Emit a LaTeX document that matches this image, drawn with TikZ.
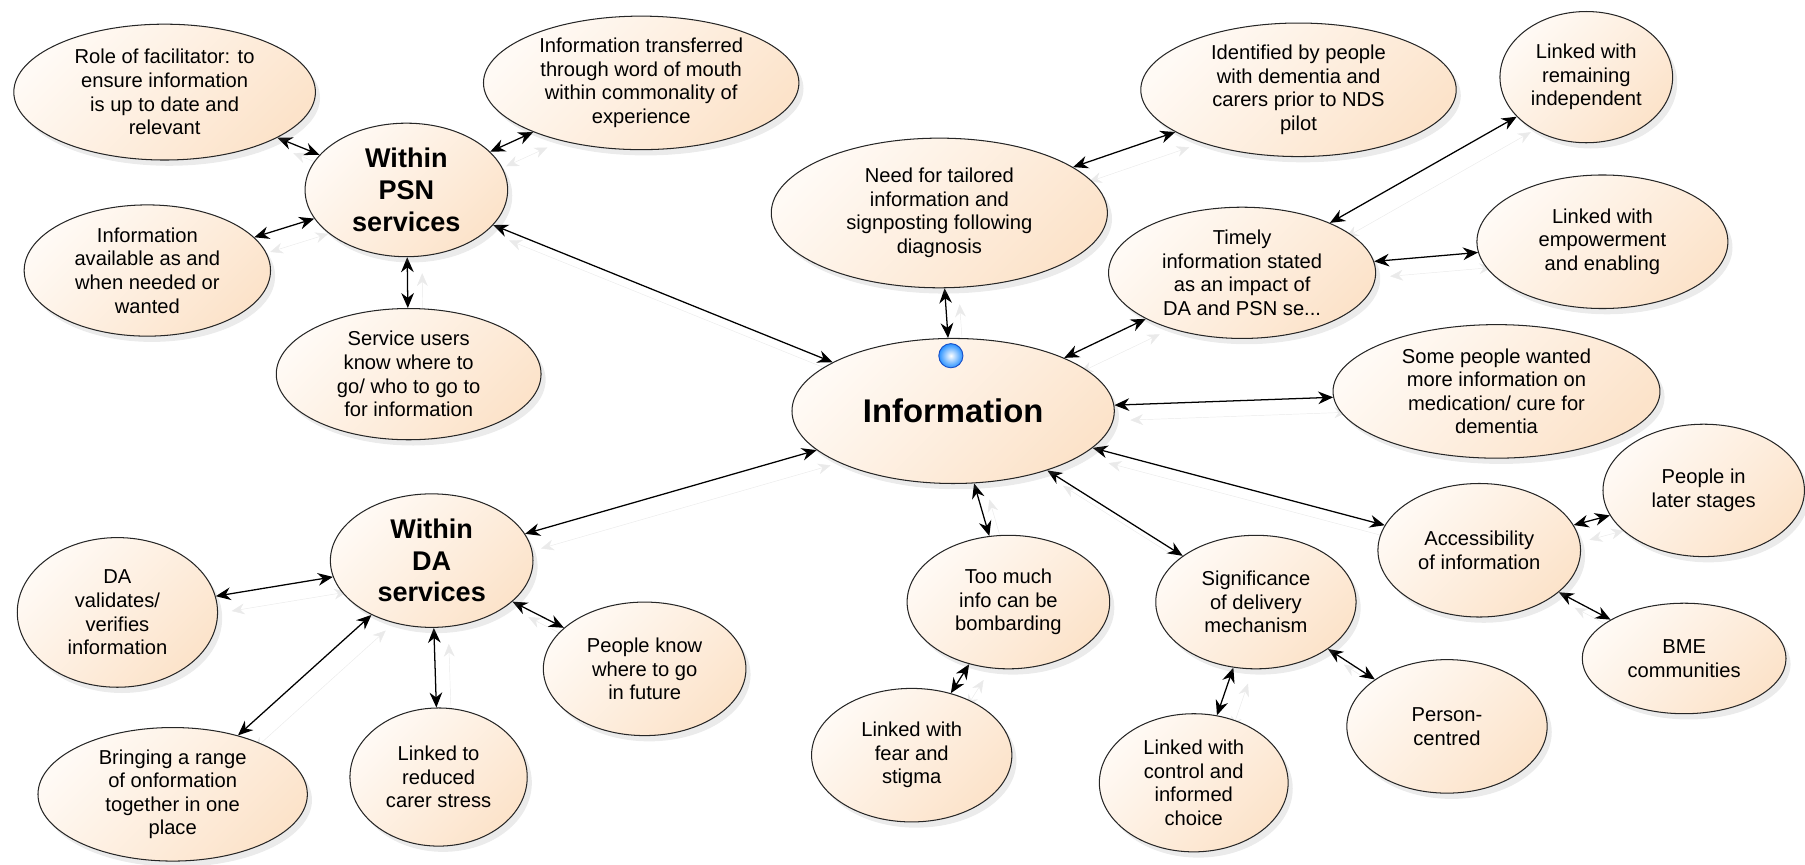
\documentclass[tikz,border=0pt]{standalone}
\usepackage{fontspec}
\setmainfont{Liberation Sans}
\usetikzlibrary{arrows.meta,shapes,shadows,positioning}
\pgfdeclarelayer{background}
\pgfsetlayers{background,main}
\definecolor{peachLight}{RGB}{255,250,245}
\definecolor{peachDark}{RGB}{252,227,202}
\definecolor{edgeShade}{RGB}{234,234,234}
\definecolor{dotBlue}{RGB}{40,145,255}
\definecolor{dotRim}{RGB}{25,80,200}

\begin{document}
\begin{tikzpicture}[x=1pt, y=-1pt,
		topic/.style={ellipse, draw=black!85, line width=0.9pt, inner sep=0pt, align=center,
			top color=peachLight, bottom color=peachDark, shading angle=45,
			drop shadow={shadow xshift=4pt, shadow yshift=-5pt, opacity=0.16},
			font=\fontsize{17.5}{20.5}\selectfont},
		hub/.style={topic, font=\bfseries\fontsize{23.5}{27.5}\selectfont},
		core/.style={topic, font=\bfseries\fontsize{28.5}{32}\selectfont},
		link/.style={{Stealth[length=13pt,width=11pt]}-{Stealth[length=13pt,width=11pt]}, line width=1.1pt,
			preaction={draw=edgeShade, transform canvas={shift={(13pt,-13pt)}}}},
		marker/.style={circle, draw=dotRim, line width=0.8pt, inner color=white, outer color=dotBlue,
			minimum size=21pt, inner sep=0pt}
		]
	\useasboundingbox (0,0) rectangle (1568,750.6);

		% --- Centre ---
		\node[core, minimum width=280pt, minimum height=126pt] (info) at (828, 357) {Information};
		\node[marker] (dot) at (826, 309) {};

		% --- Within PSN services (haut gauche) ---
		\node[hub, minimum width=176pt, minimum height=116pt] (psn) at (353, 165) {Within\\PSN\\services};
		\node[topic, minimum width=262pt, minimum height=118pt] (facil) at (143, 80) {Role of facilitator: to\\ensure information\\is up to date and\\relevant};
		\node[topic, minimum width=274pt, minimum height=116pt] (wom) at (557, 72) {Information transferred\\through word of mouth\\within commonality of\\experience};
		\node[topic, minimum width=214pt, minimum height=114pt] (avail) at (128, 235) {Information\\available as and\\when needed or\\wanted};
		\node[topic, minimum width=230pt, minimum height=114pt] (users) at (355, 325) {Service users\\know where to\\go/ who to go to\\for information};

		% --- Haut droite ---
		\node[topic, minimum width=292pt, minimum height=130pt] (tailored) at (816, 185) {Need for tailored\\information and\\signposting following\\diagnosis};
		\node[topic, minimum width=274pt, minimum height=116pt] (identified) at (1128, 78) {Identified by people\\with dementia and\\carers prior to NDS\\pilot};
		\node[topic, minimum width=232pt, minimum height=114pt] (timely) at (1079, 237) {Timely\\information stated\\as an impact of\\DA and PSN se...};
		\node[topic, minimum width=150pt, minimum height=114pt] (indep) at (1378, 67) {Linked with\\remaining\\independent};
		\node[topic, minimum width=218pt, minimum height=116pt] (empower) at (1392, 210) {Linked with\\empowerment\\and enabling};
		\node[topic, minimum width=284pt, minimum height=116pt] (medic) at (1300, 340) {Some people wanted\\more information on\\medication/ cure for\\dementia};

		% --- Within DA services (bas gauche) ---
		\node[hub, minimum width=176pt, minimum height=116pt] (da) at (375, 487) {Within\\DA\\services};
		\node[topic, minimum width=174pt, minimum height=130pt] (validates) at (102, 532) {DA\\validates/\\verifies\\information};
		\node[topic, minimum width=234pt, minimum height=116pt] (range) at (150, 690) {Bringing a range\\of onformation\\together in one\\place};
		\node[topic, minimum width=154pt, minimum height=120pt] (stress) at (381, 675) {Linked to\\reduced\\carer stress};
		\node[topic, minimum width=176pt, minimum height=116pt] (future) at (560, 581) {People know\\where to go\\in future};

		% --- Bas droite ---
		\node[topic, minimum width=176pt, minimum height=116pt] (toomuch) at (876, 523) {Too much\\info can be\\bombarding};
		\node[topic, minimum width=174pt, minimum height=116pt] (fear) at (792, 656) {Linked with\\fear and\\stigma};
		\node[topic, minimum width=174pt, minimum height=116pt] (delivery) at (1091, 523) {Significance\\of delivery\\mechanism};
		\node[topic, minimum width=164pt, minimum height=120pt] (control) at (1037, 680) {Linked with\\control and\\informed\\choice};
		\node[topic, minimum width=174pt, minimum height=116pt] (person) at (1257, 631) {Person-\\centred};
		\node[topic, minimum width=176pt, minimum height=116pt] (access) at (1285, 478) {Accessibility\\of information};
		\node[topic, minimum width=175pt, minimum height=115pt] (later) at (1480, 426) {People in\\later stages};
		\node[topic, minimum width=177pt, minimum height=96pt] (bme) at (1463, 572) {BME\\communities};

		% --- Liens ---
		\begin{pgfonlayer}{background}
		\draw[link] (facil) -- (psn);
		\draw[link] (wom) -- (psn);
		\draw[link] (avail) -- (psn);
		\draw[link] (users) -- (psn);
		\draw[link] (psn) -- (info);
		\draw[link] (identified) -- (tailored);
		\draw[link] (tailored) -- (info);
		\draw[link] (indep) -- (timely);
		\draw[link] (timely) -- (empower);
		\draw[link] (timely) -- (info);
		\draw[link] (info) -- (medic);
		\draw[link] (info) -- (da);
		\draw[link] (da) -- (validates);
		\draw[link] (da) -- (range);
		\draw[link] (da) -- (stress);
		\draw[link] (da) -- (future);
		\draw[link] (info) -- (toomuch);
		\draw[link] (toomuch) -- (fear);
		\draw[link] (info) -- (delivery);
		\draw[link] (delivery) -- (control);
		\draw[link] (delivery) -- (person);
		\draw[link] (info) -- (access);
		\draw[link] (access) -- (later);
		\draw[link] (access) -- (bme);
		\end{pgfonlayer}

	\end{tikzpicture}
\end{document}
